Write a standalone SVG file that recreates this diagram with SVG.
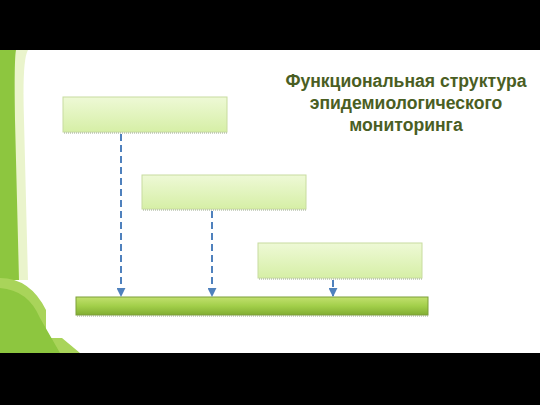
<svg xmlns="http://www.w3.org/2000/svg" width="540" height="405" viewBox="0 0 540 405">
<defs>
<linearGradient id="boxG" x1="0" y1="0" x2="0" y2="1">
<stop offset="0" stop-color="#eef9d6"/>
<stop offset="1" stop-color="#d6efa6"/>
</linearGradient>
<linearGradient id="barG" x1="0" y1="0" x2="0" y2="1">
<stop offset="0" stop-color="#c2e06e"/>
<stop offset="0.5" stop-color="#a2cf4a"/>
<stop offset="1" stop-color="#82ae33"/>
</linearGradient>
<marker id="ah" viewBox="0 0 10 10" refX="9" refY="5" markerWidth="4.5" markerHeight="4.5" orient="auto">
<path d="M0,0 L10,5 L0,10 z" fill="#4f81bd"/>
</marker>
<style>
.box{fill:url(#boxG);stroke:#c8dc9f;stroke-width:1}
.shadow{stroke:#9aa88a;stroke-width:1;stroke-dasharray:1,1;fill:none}
.conn{stroke:#4f81bd;stroke-width:2;stroke-dasharray:7,4;fill:none;marker-end:url(#ah)}
.title{font-family:"Liberation Sans",Arial,sans-serif;font-weight:bold;font-size:17.6px;fill:#4a5e23;text-anchor:middle}
</style>
</defs>
<rect x="0" y="0" width="540" height="405" fill="#000"/>
<rect x="0" y="50" width="540" height="303" fill="#fff"/>
<g id="decor">
<path d="M0,50 L28,50 Q22,60 24,120 L28,280 L0,280 Z" fill="#eaf4cc"/>
<path d="M0,50 L16,50 Q14,60 15,120 L19,280 L0,280 Z" fill="#8dc63f"/>
<path d="M0,278 Q30,278 46,310 L46,338 L62,338 L80,353 L0,353 Z" fill="#a9d45a"/>
<path d="M0,288 Q28,290 40,318 L60,353 L0,353 Z" fill="#8dc63f"/>
</g>
<g id="title">
<text class="title" x="406" y="87">Функциональная структура</text>
<text class="title" x="406" y="109">эпидемиологического</text>
<text class="title" x="406" y="131">мониторинга</text>
</g>
<g id="box1">
<rect class="box" x="63" y="97" width="164" height="35"/>
<line class="shadow" x1="64" y1="133" x2="227" y2="133"/>
</g>
<g id="box2">
<rect class="box" x="142" y="175" width="164" height="34"/>
<line class="shadow" x1="143" y1="210" x2="306" y2="210"/>
</g>
<g id="box3">
<rect class="box" x="258" y="243" width="164" height="35"/>
<line class="shadow" x1="259" y1="279" x2="422" y2="279"/>
</g>
<g id="bar">
<rect x="76" y="297" width="352" height="18" fill="url(#barG)" stroke="#7d9f38" stroke-width="1"/>
<line class="shadow" x1="77" y1="316" x2="428" y2="316"/>
</g>
<g id="connectors">
<line class="conn" x1="121" y1="134" x2="121" y2="296"/>
<line class="conn" x1="212" y1="211" x2="212" y2="296"/>
<line class="conn" x1="333" y1="280" x2="333" y2="296"/>
</g>
</svg>
